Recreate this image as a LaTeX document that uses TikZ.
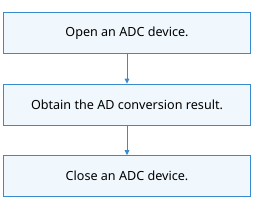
\documentclass[tikz,border=0pt]{standalone}
\usepackage{fontspec}
\setmainfont{Noto Sans}
\usepackage{tikz}
\usetikzlibrary{positioning,arrows.meta}
\definecolor{boxline}{HTML}{3A8AD0}
\definecolor{boxfill}{HTML}{F0F8FE}

\begin{document}
\begin{tikzpicture}[
  x=1pt,y=1pt,
  font=\fontsize{12.6}{14}\selectfont,
  node distance=29.5pt,
  stepbox/.style={draw=boxline,fill=boxfill,line width=1pt,minimum width=247pt,minimum height=41pt,inner sep=0pt},
  pfeil/.style={-{Triangle[length=5pt,width=4.5pt]},boxline,line width=1pt}
]
\useasboundingbox (0,0) rectangle (254,-204);
\node[stepbox] (open) at (127,-33.2) {Open an ADC device.};
\node[stepbox,below=of open] (read) {Obtain the AD conversion result.};
\node[stepbox,below=of read] (close) {Close an ADC device.};

\foreach \x/\y in {open/read,read/close} \draw[pfeil] (\x) -- (\y);
\end{tikzpicture}
\end{document}
